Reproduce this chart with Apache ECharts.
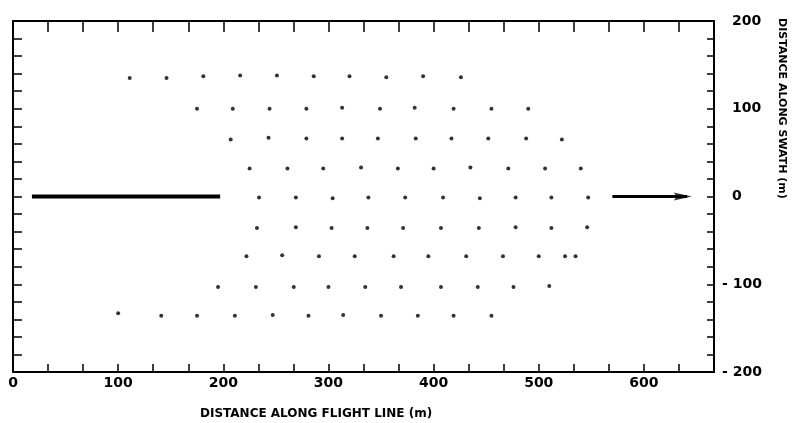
<!DOCTYPE html>
<html>
<head>
<meta charset="utf-8">
<script src="https://cdn.jsdelivr.net/npm/echarts@6/dist/echarts.min.js"></script>
<style>html,body{margin:0;padding:0;background:#fff;}#c{width:800px;height:423px;}</style>
</head>
<body>
<div id="c"></div>
<script>
// Sample points, read row by row (x in m along flight line, y in m along swath)
var rowA_x = [111, 146, 181, 216, 251, 286, 320, 355, 390, 426];
var rowA_y = [135, 135, 137, 138, 138, 137, 137, 136, 137, 136];
var rowB_x = [175, 209, 244, 279, 313, 349, 382, 419, 455, 490];
var rowB_y = [100, 100, 100, 100, 101, 100, 101, 100, 100, 100];
var rowC_x = [207, 243, 279, 313, 347, 383, 417, 452, 488, 522];
var rowC_y = [65, 67, 66, 66, 66, 66, 66, 66, 66, 65];
var rowD_x = [225, 261, 295, 331, 366, 400, 435, 471, 506, 540];
var rowD_y = [32, 32, 32, 33, 32, 32, 33, 32, 32, 32];
var rowE_x = [234, 269, 304, 338, 373, 409, 444, 478, 512, 547];
var rowE_y = [-1, -1, -2, -1, -1, -1, -2, -1, -1, -1];
var rowF_x = [232, 269, 303, 337, 371, 407, 443, 478, 512, 546];
var rowF_y = [-36, -35, -36, -36, -36, -36, -36, -35, -36, -35];
var rowG_x = [222, 256, 291, 325, 362, 395, 431, 466, 500, 525, 535];
var rowG_y = [-68, -67, -68, -68, -68, -68, -68, -68, -68, -68, -68];
var rowH_x = [195, 231, 267, 300, 335, 369, 407, 442, 476, 510];
var rowH_y = [-103, -103, -103, -103, -103, -103, -103, -103, -103, -102];
var rowI_x = [100, 141, 175, 211, 247, 281, 314, 350, 385, 419, 455];
var rowI_y = [-133, -136, -136, -136, -135, -136, -135, -136, -136, -136, -136];

// Flight line arrows (x extent at y = 0)
var arrowLeft = [[18, 0], [197, 0]];
var arrowRight = [[570, 0], [641, 0]];
var arrowHead = [[637, 0]];

// Axis definitions
var xMin = 0, xMax = 2000 / 3, xStep = 100 / 3;
var yMin = -200, yMax = 200, yStep = 20;
var xTitle = 'DISTANCE ALONG FLIGHT LINE (m)';
var yTitle = 'DISTANCE ALONG SWATH (m)';

function buildPoints() {
  var rows = [[rowA_x, rowA_y], [rowB_x, rowB_y], [rowC_x, rowC_y], [rowD_x, rowD_y],
              [rowE_x, rowE_y], [rowF_x, rowF_y], [rowG_x, rowG_y], [rowH_x, rowH_y], [rowI_x, rowI_y]];
  var pts = [];
  rows.forEach(function (r) {
    for (var i = 0; i < r[0].length; i++) pts.push([r[0][i], r[1][i]]);
  });
  return pts;
}

var FONT = 'DejaVu Sans';
var chart = echarts.init(document.getElementById('c'), null, {renderer: 'canvas'});
var axisLine = {show: true, onZero: false, lineStyle: {color: '#000', width: 2}};

chart.setOption({
  animation: false,
  backgroundColor: '#fff',
  grid: {left: 13, right: 86, top: 21, bottom: 51, containLabel: false},
  xAxis: [
    {
      type: 'value', position: 'bottom', min: xMin, max: xMax, interval: xStep,
      axisLine: axisLine,
      axisTick: {show: true, inside: true, length: 8, lineStyle: {color: '#000', width: 1.5}},
      splitLine: {show: false},
      axisLabel: {
        show: true, margin: 4, color: '#000', fontFamily: FONT, fontWeight: 'bold', fontSize: 14,
        showMinLabel: true, showMaxLabel: true,
        formatter: function (v) {
          var r = Math.round(v);
          return (Math.abs(v - r) < 0.01 && r % 100 === 0) ? String(r) : '';
        }
      }
    },
    {
      type: 'value', position: 'top', min: xMin, max: xMax, interval: xStep,
      axisLine: axisLine,
      axisTick: {show: true, inside: true, length: 11, lineStyle: {color: '#000', width: 1.5}},
      splitLine: {show: false},
      axisLabel: {show: false}
    }
  ],
  yAxis: [
    {
      type: 'value', position: 'right', min: yMin, max: yMax, interval: yStep,
      axisLine: axisLine,
      axisTick: {show: true, inside: true, length: 7, lineStyle: {color: '#000', width: 1.5}},
      splitLine: {show: false},
      axisLabel: {
        show: true, margin: 8, align: 'left', color: '#000',
        fontFamily: FONT, fontWeight: 'bold', fontSize: 14,
        formatter: function (v) {
          var r = Math.round(v);
          if (r % 100 !== 0) return '';
          if (r < 0) return '{n|- ' + Math.abs(r) + '}';
          return '{p|' + r + '}';
        },
        rich: {
          p: {padding: [0, 0, 0, 10], color: '#000', fontFamily: FONT, fontWeight: 'bold', fontSize: 14},
          n: {color: '#000', fontFamily: FONT, fontWeight: 'bold', fontSize: 14}
        }
      }
    },
    {
      type: 'value', position: 'left', min: yMin, max: yMax, interval: yStep,
      axisLine: axisLine,
      axisTick: {show: true, inside: true, length: 9, lineStyle: {color: '#000', width: 1.5}},
      splitLine: {show: false},
      axisLabel: {show: false}
    }
  ],
  series: [
    {
      type: 'scatter', xAxisIndex: 0, yAxisIndex: 0,
      data: buildPoints(), symbol: 'circle', symbolSize: 4,
      itemStyle: {color: '#000'}, silent: true
    },
    {
      type: 'line', xAxisIndex: 0, yAxisIndex: 0, data: arrowLeft,
      symbol: 'none', lineStyle: {color: '#000', width: 4}, silent: true
    },
    {
      type: 'line', xAxisIndex: 0, yAxisIndex: 0, data: arrowRight,
      symbol: 'none', lineStyle: {color: '#000', width: 3}, silent: true
    },
    {
      type: 'scatter', xAxisIndex: 0, yAxisIndex: 0, data: arrowHead,
      symbol: 'path://M0,0 L18,4 L0,8 L3,4 Z', symbolSize: [18, 8], symbolKeepAspect: false,
      itemStyle: {color: '#000'}, silent: true
    }
  ],
  graphic: [
    {
      type: 'text', left: 200, top: 408,
      style: {text: xTitle, fill: '#000', font: 'bold 12px "' + FONT + '"'}
    },
    {
      type: 'text', x: 782, y: 18, rotation: -Math.PI / 2,
      style: {text: yTitle, fill: '#000', font: 'bold 11px "' + FONT + '"', textAlign: 'left', textVerticalAlign: 'middle'}
    }
  ]
});
</script>
</body>
</html>
